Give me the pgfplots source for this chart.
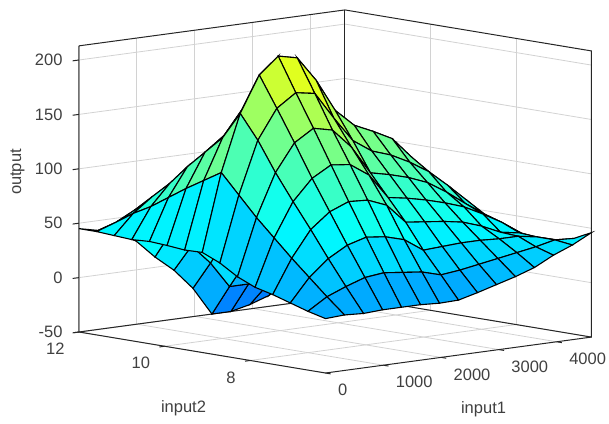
\documentclass[border=0pt]{standalone}
\usepackage{pgfplots}
\pgfplotsset{compat=1.18}
\usepackage{fontspec}
\setmainfont{Liberation Sans}
\definecolor{txt}{gray}{0.25}
\begin{document}
\begin{tikzpicture}
\path[use as bounding box] (0pt,0pt) rectangle (609pt,-423pt);
\begin{axis}[
  at={(79pt,-373pt)},anchor=south west,
  x={(0.0578pt,0.00782pt)},y={(-42.8pt,7.12pt)},z={(0pt,1.088pt)},
  xmin=0,xmax=4600,ymin=6.24,ymax=12,zmin=-50,zmax=213,
  xtick={0,1000,2000,3000,4000},ytick={8,10,12},ztick={-50,0,50,100,150,200},
  scaled ticks=false,
  /pgf/number format/assume math mode=true,
  /pgf/number format/1000 sep={},
  tick label style={font=\fontsize{16.5}{18}\selectfont,text=txt},
  xticklabel style={anchor=west,xshift=9pt,yshift=-17pt},
  yticklabel style={anchor=east,xshift=-11pt,yshift=-17pt},
  zticklabel style={anchor=east,xshift=-13pt},
  grid=major,grid style={gray!35,line width=0.8pt},
  axis line style={draw=none},
  major tick length=0pt,
  tick align=outside,
  clip=false,
  xlabel={input1},ylabel={input2},zlabel={output},
  every axis x label/.style={at={(axis cs:2734,6.24,-103)},anchor=center,font=\fontsize{16.5}{18}\selectfont,text=txt},
  every axis y label/.style={at={(axis cs:0,9.558,-104.5)},anchor=center,font=\fontsize{16.5}{18}\selectfont,text=txt},
  every axis z label/.style={at={(axis cs:0,12,97)},anchor=center,rotate=90,yshift=61.5pt,font=\fontsize{16.5}{18}\selectfont,text=txt},
  colormap={matjet}{rgb=(0,0,.5) rgb=(0,0,1) rgb=(0,.5,1) rgb=(0,1,1) rgb=(.5,1,.5) rgb=(1,1,0) rgb=(1,.5,0) rgb=(1,0,0) rgb=(.5,0,0)},
  point meta min=-175,point meta max=425,
  z buffer=sort,
]
% frame of the box
\draw[black!85,line width=1pt] (axis cs:0,12,213) -- (axis cs:0,12,-50) -- (axis cs:0,6.24,-50) -- (axis cs:4600,6.24,-50) -- (axis cs:4600,6.24,213) -- (axis cs:4600,12,213) -- (axis cs:0,12,213);
\draw[black!85,line width=1pt] (axis cs:0,12,-50) -- (axis cs:4600,12,-50) -- (axis cs:4600,6.24,-50);
\draw[black!85,line width=1pt] (axis cs:4600,12,-50) -- (axis cs:4600,12,213);
% tick marks
\draw[black!85,line width=1pt] (axis cs:0,12,-50) -- (axis cs:-110,12,-50) (axis cs:0,12,0) -- (axis cs:-110,12,0) (axis cs:0,12,50) -- (axis cs:-110,12,50) (axis cs:0,12,100) -- (axis cs:-110,12,100) (axis cs:0,12,150) -- (axis cs:-110,12,150) (axis cs:0,12,200) -- (axis cs:-110,12,200);
\draw[black!85,line width=1pt] (axis cs:0,8,-50) -- (axis cs:-90,8,-50) (axis cs:0,10,-50) -- (axis cs:-90,10,-50) (axis cs:0,12,-50) -- (axis cs:-90,12,-50);
\draw[black!85,line width=1pt] (axis cs:0,6.24,-50) -- (axis cs:0,6.12,-50) (axis cs:1000,6.24,-50) -- (axis cs:1000,6.12,-50) (axis cs:2000,6.24,-50) -- (axis cs:2000,6.12,-50) (axis cs:3000,6.24,-50) -- (axis cs:3000,6.12,-50) (axis cs:4000,6.24,-50) -- (axis cs:4000,6.12,-50);
\addplot3[surf,shader=flat corner,draw=black,fill=mapped color,line width=1.1pt,mesh/rows=15,mesh/cols=15] table {
x y z
0 6.24 0
329 6.24 1
657 6.24 0
986 6.24 1
1314 6.24 1
1643 6.24 1
1971 6.24 0
2300 6.24 0.5
2629 6.24 5
2957 6.24 10
3286 6.24 15
3614 6.24 21
3943 6.24 30
4271 6.24 37
4600 6.24 46
0 6.651 4
329 6.651 15
657 6.651 22
986 6.651 28
1314 6.651 30
1643 6.651 28
1971 6.651 26
2300 6.651 21
2629 6.651 23
2957 6.651 26
3286 6.651 29
3614 6.651 32
3943 6.651 35
4271 6.651 39
4600 6.651 38
0 7.063 9
329 7.063 30
657 7.063 45
986 7.063 55
1314 7.063 60
1643 7.063 58
1971 7.063 53
2300 7.063 41
2629 7.063 42
2957 7.063 43
3286 7.063 43
3614 7.063 42
3943 7.063 42
4271 7.063 39
4600 7.063 34
0 7.474 14
329 7.474 45
657 7.474 69
986 7.474 83
1314 7.474 90
1643 7.474 89
1971 7.474 82
2300 7.474 64
2629 7.474 62
2957 7.474 60
3286 7.474 57
3614 7.474 51
3943 7.474 43
4271 7.474 40
4600 7.474 33
0 7.886 18
329 7.886 61
657 7.886 92
986 7.886 111
1314 7.886 121
1643 7.886 119
1971 7.886 107
2300 7.886 84
2629 7.886 81
2957 7.886 77
3286 7.886 72
3614 7.886 66
3943 7.886 57
4271 7.886 47
4600 7.886 35
0 8.297 25
329 8.297 77
657 8.297 116
986 8.297 141
1314 8.297 152
1643 8.297 148
1971 8.297 130
2300 8.297 104
2629 8.297 100
2957 8.297 95
3286 8.297 88
3614 8.297 77
3943 8.297 64
4271 8.297 52
4600 8.297 37
0 8.709 35
329 8.709 95
657 8.709 143
986 8.709 170
1314 8.709 182
1643 8.709 179
1971 8.709 154
2300 8.709 131
2629 8.709 119
2957 8.709 113
3286 8.709 104
3614 8.709 93
3943 8.709 78
4271 8.709 62
4600 8.709 40
0 9.12 42
329 9.12 113
657 9.12 165
986 9.12 198
1314 9.12 213
1643 9.12 209
1971 9.12 186
2300 9.12 156
2629 9.12 140
2957 9.12 132
3286 9.12 123
3614 9.12 104
3943 9.12 82
4271 9.12 63
4600 9.12 47
0 9.531 41.5
329 9.531 103
657 9.531 140
986 9.531 163
1314 9.531 180
1643 9.531 180
1971 9.531 160
2300 9.531 135
2629 9.531 125
2957 9.531 120
3286 9.531 112
3614 9.531 100
3943 9.531 88
4271 9.531 72
4600 9.531 58
0 9.943 43
329 9.943 93
657 9.943 124
986 9.943 137
1314 9.943 150
1643 9.943 145
1971 9.943 125
2300 9.943 100
2629 9.943 92
2957 9.943 88
3286 9.943 82
3614 9.943 80
3943 9.943 80
4271 9.943 75
4600 9.943 65
0 10.354 44
329 10.354 82
657 10.354 108
986 10.354 112
1314 10.354 120
1643 10.354 110
1971 10.354 90
2300 10.354 68
2629 10.354 60
2957 10.354 55
3286 10.354 52
3614 10.354 55
3943 10.354 60
4271 10.354 62
4600 10.354 60
0 10.766 43
329 10.766 71
657 10.766 90
986 10.766 88
1314 10.766 92
1643 10.766 78
1971 10.766 60
2300 10.766 35
2629 10.766 28
2957 10.766 22
3286 10.766 20
3614 10.766 25
3943 10.766 35
4271 10.766 45
4600 10.766 48
0 11.177 44
329 11.177 62
657 11.177 75
986 11.177 68
1314 11.177 65
1643 11.177 50
1971 11.177 30
2300 11.177 5
2629 11.177 0
2957 11.177 -5
3286 11.177 -2
3614 11.177 3
3943 11.177 12
4271 11.177 22
4600 11.177 30
0 11.589 45
329 11.589 51
657 11.589 60
986 11.589 48
1314 11.589 37
1643 11.589 20
1971 11.589 2
2300 11.589 -22
2629 11.589 -22
2957 11.589 -25
3286 11.589 -15
3614 11.589 -8
3943 11.589 -3
4271 11.589 8
4600 11.589 18
0 12 45
329 12 41
657 12 35.5
986 12 26.6
1314 12 9.5
1643 12 -5
1971 12 -24
2300 12 -50
2629 12 -50
2957 12 -46
3286 12 -40
3614 12 -30
3943 12 -15
4271 12 -5
4600 12 5
};
\end{axis}
\end{tikzpicture}
\end{document}
